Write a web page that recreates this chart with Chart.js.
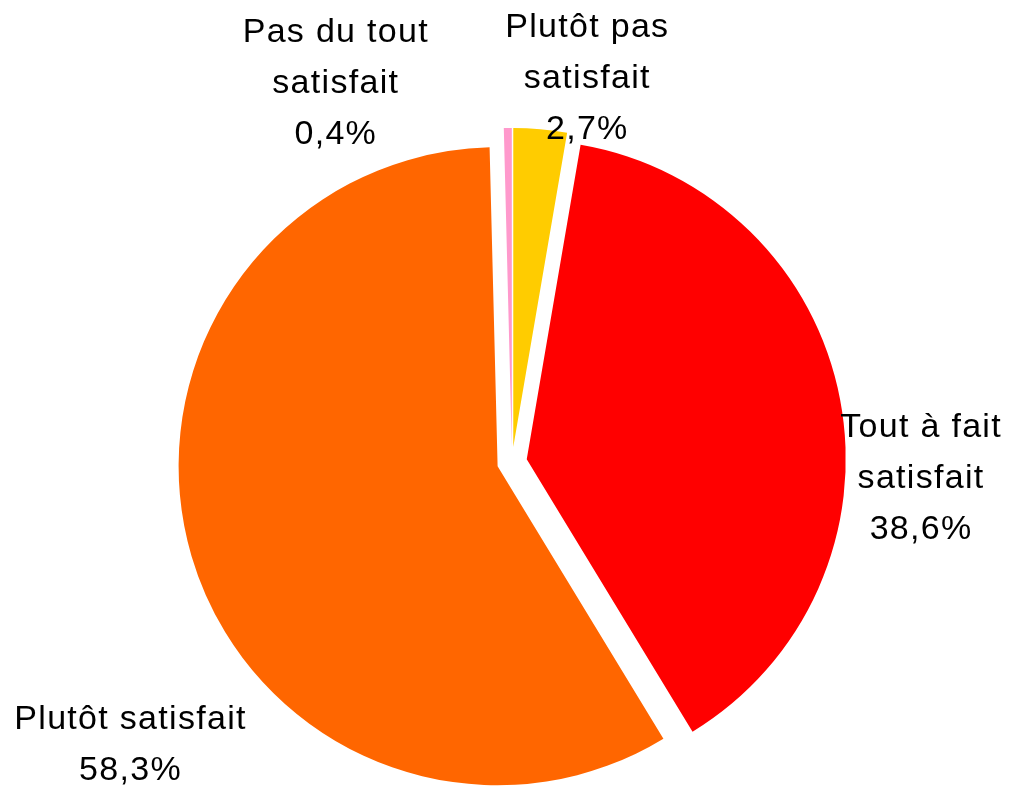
<!DOCTYPE html>
<html>
<head>
<meta charset="utf-8">
<script src="https://cdn.jsdelivr.net/npm/chart.js@4"></script>
<style>
  html, body { margin: 0; padding: 0; background: #fff; }
  #wrap { width: 1012px; height: 791px; }
</style>
</head>
<body>
<div id="wrap"><canvas id="c" width="1012" height="791"></canvas></div>
<script>
// Data (clockwise from 12 o'clock)
const categories = [
  ['Plutôt pas', 'satisfait'],
  ['Tout à fait', 'satisfait'],
  ['Plutôt satisfait'],
  ['Pas du tout', 'satisfait']
];
const values = [2.7, 38.6, 58.3, 0.4];
const colors = ['#FFCC00', '#FF0000', '#FF6600', '#FF99CC'];
// label placement relative to outer mid point of each slice
const labelShift = [[47, -92], [81, 38], [-61, 173], [-172, -86]];

const EXPLODE = 15;
const FONT = '34px "Liberation Sans", Arial, sans-serif';
const LINE_H = 51;

const explodePlugin = {
  id: 'explode',
  afterDatasetsUpdate(chart) {
    const meta = chart.getDatasetMeta(0);
    meta.data.forEach(arc => {
      const mid = (arc.startAngle + arc.endAngle) / 2;
      arc.x += Math.cos(mid) * EXPLODE;
      arc.y += Math.sin(mid) * EXPLODE;
    });
  }
};

const labelPlugin = {
  id: 'outLabels',
  afterDatasetsDraw(chart) {
    const ctx = chart.ctx;
    const meta = chart.getDatasetMeta(0);
    ctx.save();
    ctx.font = FONT;
    ctx.fillStyle = '#000';
    ctx.textAlign = 'center';
    ctx.textBaseline = 'alphabetic';
    try { ctx.letterSpacing = '1.3px'; } catch (e) {}
    meta.data.forEach((arc, i) => {
      const mid = (arc.startAngle + arc.endAngle) / 2;
      const ox = arc.x + Math.cos(mid) * arc.outerRadius;
      const oy = arc.y + Math.sin(mid) * arc.outerRadius;
      const lines = categories[i].concat([values[i].toFixed(1).replace('.', ',') + '%']);
      const x = ox + labelShift[i][0];
      let y = oy + labelShift[i][1];
      lines.forEach(line => {
        ctx.fillText(line, x, y);
        y += LINE_H;
      });
    });
    ctx.restore();
  }
};

new Chart(document.getElementById('c'), {
  type: 'pie',
  data: {
    labels: categories.map(l => l.join(' ')),
    datasets: [{
      data: values,
      backgroundColor: colors,
      borderWidth: 0,
      hoverOffset: 0
    }]
  },
  options: {
    responsive: false,
    animation: false,
    events: [],
    radius: 319,
    rotation: 0,
    layout: { padding: { left: 12, top: 133, right: 0, bottom: 0 } },
    plugins: {
      legend: { display: false },
      tooltip: { enabled: false }
    }
  },
  plugins: [explodePlugin, labelPlugin]
});
</script>
</body>
</html>
